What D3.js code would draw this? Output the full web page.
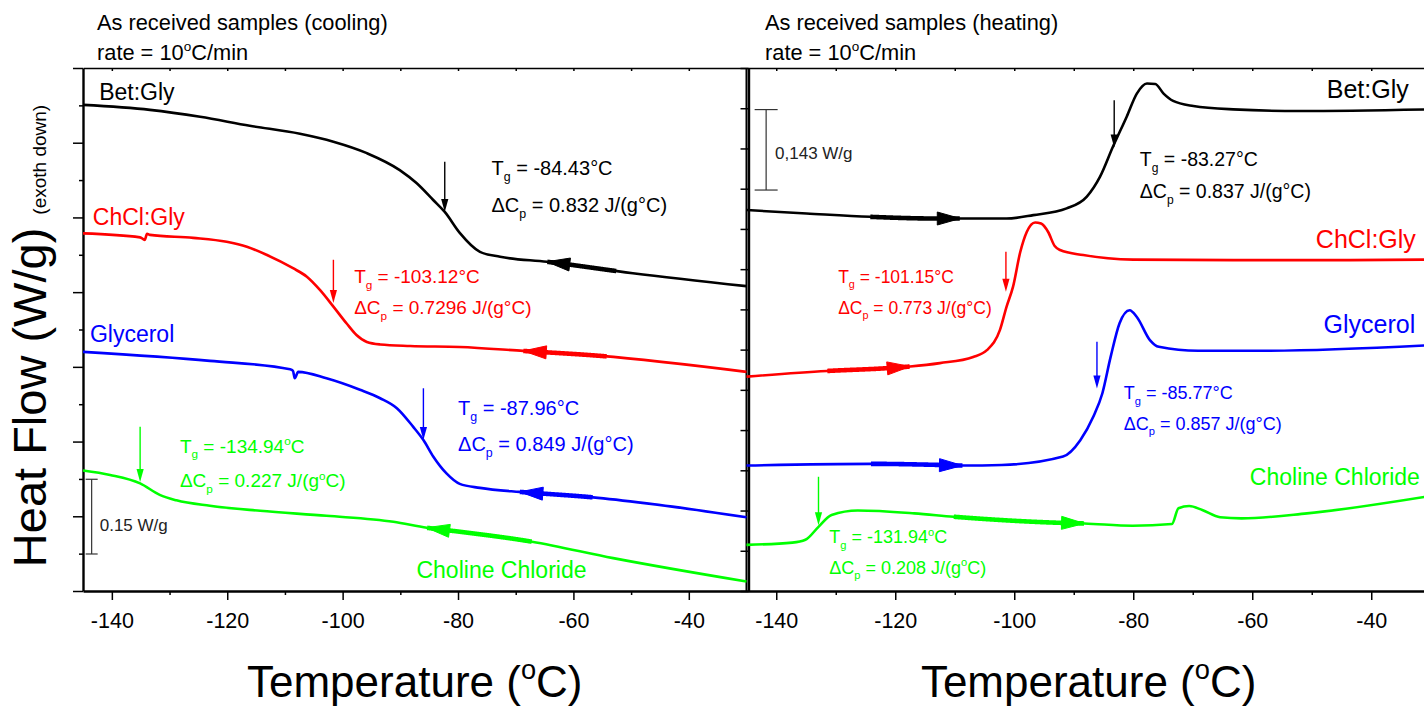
<!DOCTYPE html>
<html>
<head>
<meta charset="utf-8">
<script src="https://cdn.jsdelivr.net/npm/d3@7"></script>
<style>
body { margin: 0; background: #fff; }
svg { display: block; font-family: "Liberation Sans", Arial, sans-serif; }
</style>
</head>
<body>
<svg id="chart" width="1424" height="707"></svg>
<script>
// --- data: [temperature (°C), heat flow (W/g, offset)] ---

// cooling runs (left panel)
const coolBetGly = [[-145,0.976],[-133.4,0.966],[-124.7,0.952],[-116.1,0.934],[-107.4,0.918],[-101.6,0.902],[-95.8,0.879],[-90.1,0.845],[-87.2,0.819],[-84.3,0.785],[-82.3,0.761],[-79.7,0.719],[-76.2,0.681],[-72.7,0.671],[-64.6,0.661],[-49.7,0.638],[-30,0.612]];
const coolChClGly = [[-145,0.718],[-135.1,0.710],[-134.3,0.705],[-133.9,0.717],[-133.4,0.715],[-125.9,0.709],[-120.1,0.701],[-116.6,0.691],[-113.2,0.675],[-108.6,0.648],[-106.2,0.631],[-103.9,0.604],[-101.6,0.571],[-99.3,0.537],[-97.6,0.514],[-95.8,0.500],[-93.5,0.495],[-88.3,0.492],[-79.7,0.490],[-68.7,0.482],[-55.3,0.472],[-30,0.440]];
const coolGlycerol = [[-145,0.480],[-123.0,0.462],[-109.1,0.445],[-108.6,0.442],[-108.3,0.427],[-107.7,0.440],[-102.8,0.427],[-97.0,0.404],[-93.5,0.387],[-90.6,0.367],[-87.8,0.330],[-86.0,0.303],[-84.3,0.270],[-82.0,0.236],[-79.7,0.215],[-76.2,0.207],[-69.3,0.199],[-65.8,0.196],[-56.6,0.188],[-47.3,0.176],[-30,0.148]];
const coolCholine = [[-145,0.242],[-140.3,0.233],[-135.1,0.216],[-131.7,0.193],[-128.8,0.182],[-123.0,0.171],[-114.3,0.161],[-102.8,0.151],[-91.2,0.139],[-85.4,0.127],[-79.7,0.119],[-67.2,0.099],[-53.1,0.066],[-30,0.019]];

// heating runs (right panel)
const heatBetGly = [[-145,0.677],[-134.9,0.671],[-124.2,0.665],[-113.0,0.662],[-101.3,0.662],[-96.8,0.668],[-91.2,0.680],[-87.8,0.701],[-85.6,0.736],[-83.4,0.790],[-81.1,0.843],[-79.4,0.884],[-77.7,0.902],[-76.3,0.901],[-74.9,0.884],[-73.3,0.871],[-69.9,0.862],[-63.2,0.856],[-52.0,0.853],[-30,0.856]];
const heatChClGly = [[-145,0.381],[-131.5,0.391],[-121.4,0.396],[-117.5,0.399],[-112.5,0.405],[-106.9,0.416],[-104.6,0.428],[-102.4,0.464],[-101.3,0.505],[-100.2,0.541],[-99.0,0.602],[-97.9,0.638],[-96.5,0.655],[-95.5,0.653],[-94.3,0.638],[-93.2,0.613],[-92.3,0.606],[-88.4,0.597],[-80.0,0.589],[-63.2,0.588],[-46.4,0.588],[-30,0.589]];
const heatGlycerol = [[-145,0.223],[-124.1,0.226],[-112.4,0.224],[-108.7,0.223],[-102.1,0.224],[-91.8,0.239],[-88.9,0.268],[-86.7,0.310],[-85.2,0.351],[-83.8,0.416],[-82.3,0.476],[-80.6,0.499],[-79.4,0.487],[-77.2,0.446],[-75.7,0.434],[-69.1,0.427],[-58.1,0.427],[-30,0.437]];
const heatCholine = [[-145,0.082],[-137.3,0.086],[-135.1,0.091],[-132.9,0.114],[-130.7,0.135],[-126.3,0.143],[-116.8,0.138],[-110.2,0.132],[-91.8,0.121],[-88.2,0.120],[-80.1,0.116],[-73.5,0.119],[-72.4,0.147],[-70.6,0.151],[-68.4,0.144],[-65.4,0.131],[-61.8,0.129],[-50.8,0.138],[-30,0.169]];

const sampleNames = ["Bet:Gly", "ChCl:Gly", "Glycerol", "Choline Chloride"];
const coolTg  = ["-84.43", "-103.12", "-87.96", "-134.94"];
const coolDcp = ["0.832", "0.7296", "0.849", "0.227"];
const heatTg  = ["-83.27", "-101.15", "-85.77", "-131.94"];
const heatDcp = ["0.837", "0.773", "0.857", "0.208"];
const xTickValues = [-140, -120, -100, -80, -60, -40];

// --- drawing ---
const colors = ["#000000", "#ff0000", "#0000ff", "#00ff00"];
const yTop = 68, yBot = 591;
const svg = d3.select("#chart");
svg.append("rect").attr("width", 1424).attr("height", 707).attr("fill", "#fff");

const xCool = d3.scaleLinear().domain([-145, -30]).range([83, 746.5]);
const yCool = d3.scaleLinear().domain([0, 1.05]).range([yBot, yTop]);
const xHeat = d3.scaleLinear().domain([-145, -30]).range([746.5, 1430.75]);
const yHeat = d3.scaleLinear().domain([0, 0.9295]).range([yBot, yTop]);

function styleAxis(g, w) {
  g.select(".domain").attr("stroke", "#000").attr("stroke-width", w);
  g.selectAll(".tick line").attr("stroke", "#000").attr("stroke-width", 1.5);
}

function drawXAxes(x) {
  // top border with small inward ticks
  const gt = svg.append("g").attr("transform", "translate(0," + yTop + ")")
    .call(d3.axisBottom(x).tickValues(d3.range(-140, -30, 10)).tickSize(3).tickSizeOuter(0).tickFormat(""));
  styleAxis(gt, 1.6);
  // minor bottom ticks
  const gm = svg.append("g").attr("transform", "translate(0," + yBot + ")")
    .call(d3.axisBottom(x).tickValues(d3.range(-130, -30, 20)).tickSize(4).tickFormat(""));
  gm.select(".domain").remove();
  styleAxis(gm, 0);
  // major bottom ticks and labels
  const gb = svg.append("g").attr("transform", "translate(0," + yBot + ")")
    .call(d3.axisBottom(x).tickValues(xTickValues).tickSize(9).tickSizeOuter(0).tickFormat(d => String(d)));
  styleAxis(gb, 2.4);
  gb.selectAll("text").attr("y", 22).attr("font-size", 21.5).attr("fill", "#000")
    .attr("font-family", "'Liberation Sans', Arial, sans-serif");
}

drawXAxes(xCool);
drawXAxes(xHeat);

// left panel y axis: minor + major ticks, no labels
const gyMinor = svg.append("g").attr("transform", "translate(83,0)")
  .call(d3.axisLeft(yCool).tickValues(d3.range(7).map(i => 0.075 + 0.15 * i)).tickSize(4).tickFormat(""));
gyMinor.select(".domain").remove();
styleAxis(gyMinor, 0);
const gyMajor = svg.append("g").attr("transform", "translate(83,0)")
  .call(d3.axisLeft(yCool).tickValues(d3.range(8).map(i => 0.15 * i)).tickSize(10).tickSizeOuter(0).tickFormat(""));
styleAxis(gyMajor, 2.4);

// left panel right border
svg.append("line").attr("x1", 746.5).attr("x2", 746.5).attr("y1", yTop).attr("y2", yBot)
  .attr("stroke", "#000").attr("stroke-width", 2);

// right panel y axis
const gyHeat = svg.append("g").attr("transform", "translate(748.5,0)")
  .call(d3.axisLeft(yHeat).tickValues(d3.range(14).map(i => 0.0715 * i)).tickSize(8).tickSizeOuter(0).tickFormat(""));
styleAxis(gyHeat, 2.4);

const lineGen = (x, y) => d3.line().x(d => x(d[0])).y(d => y(d[1])).curve(d3.curveMonotoneX);

function drawCurve(data, x, y, color, arrow) {
  const path = svg.append("path").datum(data)
    .attr("fill", "none").attr("stroke", color).attr("stroke-width", 2.6)
    .attr("stroke-linejoin", "round").attr("d", lineGen(x, y));
  const node = path.node();
  const len = node.getTotalLength();
  const pts = d3.range(0, len, 0.5).map(l => node.getPointAtLength(l));
  const at = px => pts.reduce((b, q) => Math.abs(q.x - px) < Math.abs(b.x - px) ? q : b, pts[0]);

  // heavier stretch behind the arrow, as in the original software
  const a = Math.min(x(arrow.tip), x(arrow.far)), b = Math.max(x(arrow.tip), x(arrow.far));
  svg.append("path").datum(pts.filter(q => q.x >= a && q.x <= b))
    .attr("fill", "none").attr("stroke", color).attr("stroke-width", 4.6)
    .attr("d", d3.line().x(d => d.x).y(d => d.y));

  const tip = at(x(arrow.tip));
  const back = at(x(arrow.tip) - arrow.dir * 8);
  let ux = tip.x - back.x, uy = tip.y - back.y;
  const n = Math.hypot(ux, uy); ux /= n; uy /= n;
  const bx = tip.x - ux * 23, by = tip.y - uy * 23;
  const hw = 6.5;
  svg.append("path")
    .attr("d", `M${tip.x},${tip.y}L${bx - uy * hw},${by + ux * hw}L${bx + uy * hw},${by - ux * hw}Z`)
    .attr("fill", color).attr("stroke", color).attr("stroke-width", 1);
}

function tgArrow(x, y, t, v0, v1, color) {
  const px = x(t), y0 = y(v0), y1 = y(v1);
  svg.append("line").attr("x1", px).attr("x2", px).attr("y1", y0).attr("y2", y1 - 10)
    .attr("stroke", color).attr("stroke-width", 1.4);
  svg.append("path").attr("d", `M${px},${y1}L${px - 3.6},${y1 - 13}L${px + 3.6},${y1 - 13}Z`).attr("fill", color);
}

// text helper: parts = [text, "sub"|"sup"|undefined]
function richText(px, py, parts, fs, color, anchor) {
  const t = svg.append("text").attr("x", px).attr("y", py).attr("font-size", fs)
    .attr("fill", color).attr("text-anchor", anchor || "start");
  let shift = 0;
  parts.forEach(p => {
    let target = 0, size = fs;
    if (p[1] === "sub") { target = fs * 0.3; size = fs * 0.62; }
    if (p[1] === "sup") { target = -fs * 0.4; size = fs * 0.62; }
    t.append("tspan").attr("dy", target - shift).attr("font-size", size).text(p[0]);
    shift = target;
  });
  return t;
}

function note(x, y, pos, tg, dcp, deg, color, fs) {
  const degParts = deg === "sup" ? [["o", "sup"], ["C"]] : [["°C"]];
  richText(x(pos.t), y(pos.y1), [["T"], ["g", "sub"], [" = " + tg]].concat(degParts), fs, color);
  const dp = deg === "sup" ? [[" = " + dcp + " J/(g"], ["o", "sup"], ["C)"]] : [[" = " + dcp + " J/(g°C)"]];
  richText(x(pos.t), y(pos.y2), [["\u0394C"], ["p", "sub"]].concat(dp), fs, color);
}

// layout of arrows and notes (data coordinates)
const coolSet = [coolBetGly, coolChClGly, coolGlycerol, coolCholine];
const heatSet = [heatBetGly, heatChClGly, heatGlycerol, heatCholine];
const coolFlow = [{tip: -64.6, far: -52.5}, {tip: -68.7, far: -54.2}, {tip: -69.3, far: -56.6}, {tip: -85.4, far: -67.2}];
const heatFlow = [{tip: -109.1, far: -124.2}, {tip: -117.5, far: -131.5}, {tip: -108.7, far: -124.1}, {tip: -88.2, far: -110.2}];
const coolTgArrow = [[-82.3, 0.862, 0.761], [-101.6, 0.665, 0.578], [-86.0, 0.407, 0.303], [-135.1, 0.330, 0.219]];
const heatTgArrow = [[-83.2, 0.872, 0.788], [-101.4, 0.603, 0.532], [-86.1, 0.443, 0.360], [-132.9, 0.203, 0.117]];
const coolNotePos = [{t: -74.2, y1: 0.835, y2: 0.761, fs: 20}, {t: -98.0, y1: 0.618, y2: 0.556, fs: 19},
                     {t: -80.0, y1: 0.353, y2: 0.282, fs: 20}, {t: -128.2, y1: 0.278, y2: 0.208, fs: 19}];
const heatNotePos = [{t: -78.9, y1: 0.755, y2: 0.698, fs: 19.5}, {t: -129.6, y1: 0.547, y2: 0.493, fs: 17.5},
                     {t: -81.6, y1: 0.341, y2: 0.286, fs: 18}, {t: -131.1, y1: 0.085, y2: 0.031, fs: 18}];
const coolLabelPos = [[-142.2, 0.986, "start", 23], [-143.3, 0.735, "start", 23], [-143.8, 0.5005, "start", 23], [-87.2, 0.0255, "start", 23]];
const heatLabelPos = [[-33.7, 0.876, "end", 25], [-32.5, 0.609, "end", 25], [-32.6, 0.458, "end", 25], [-60.4, 0.188, "start", 23]];

coolSet.forEach((d, i) => drawCurve(d, xCool, yCool, colors[i], Object.assign({dir: -1}, coolFlow[i])));
heatSet.forEach((d, i) => drawCurve(d, xHeat, yHeat, colors[i], Object.assign({dir: 1}, heatFlow[i])));

coolTgArrow.forEach((a, i) => tgArrow(xCool, yCool, a[0], a[1], a[2], colors[i]));
heatTgArrow.forEach((a, i) => tgArrow(xHeat, yHeat, a[0], a[1], a[2], colors[i]));

coolNotePos.forEach((p, i) => note(xCool, yCool, p, coolTg[i], coolDcp[i], i === 3 ? "sup" : "deg", colors[i], p.fs));
heatNotePos.forEach((p, i) => note(xHeat, yHeat, p, heatTg[i], heatDcp[i], i === 3 ? "sup" : "deg", colors[i], p.fs));

coolLabelPos.forEach((p, i) => svg.append("text").attr("x", xCool(p[0])).attr("y", yCool(p[1]))
  .attr("text-anchor", p[2]).attr("font-size", p[3]).attr("fill", colors[i]).text(sampleNames[i]));
heatLabelPos.forEach((p, i) => svg.append("text").attr("x", xHeat(p[0])).attr("y", yHeat(p[1]))
  .attr("text-anchor", p[2]).attr("font-size", p[3]).attr("fill", colors[i]).text(sampleNames[i]));

// scale bars
function scaleBar(x, y, t, v0, v1, cap, label, lt, lv) {
  const g = svg.append("g").attr("stroke", "#333").attr("stroke-width", 1.2);
  g.append("line").attr("x1", x(t)).attr("x2", x(t)).attr("y1", y(v0)).attr("y2", y(v1));
  [v0, v1].forEach(v => g.append("line").attr("x1", x(t) - cap).attr("x2", x(t) + cap).attr("y1", y(v)).attr("y2", y(v)));
  svg.append("text").attr("x", x(lt)).attr("y", y(lv)).attr("font-size", 17).attr("fill", "#222").text(label);
}
scaleBar(xCool, yCool, -143.5, 0.0743, 0.2243, 6, "0.15 W/g", -142.1, 0.121);
scaleBar(xHeat, yHeat, -141.7, 0.7126, 0.8556, 11.5, "0,143 W/g", -140.2, 0.768);

// titles
richText(97, 30, [["As received samples (cooling)"]], 21.8, "#000");
richText(97, 60, [["rate = 10"], ["o", "sup"], ["C/min"]], 21.8, "#000");
richText(765, 30, [["As received samples (heating)"]], 21.8, "#000");
richText(765, 60, [["rate = 10"], ["o", "sup"], ["C/min"]], 21.8, "#000");

// axis titles
richText(xCool(-87.5), 697, [["Temperature ("], ["o", "sup"], ["C)"]], 44, "#000", "middle");
richText(xHeat(-87.5), 697, [["Temperature ("], ["o", "sup"], ["C)"]], 44, "#000", "middle");
const yt = svg.append("text").attr("transform", "translate(46,336) rotate(-90)")
  .attr("text-anchor", "middle").attr("fill", "#000");
yt.append("tspan").attr("font-size", 47).text("Heat Flow (W/g) ");
yt.append("tspan").attr("font-size", 19).text("(exoth down)");
</script>
</body>
</html>
